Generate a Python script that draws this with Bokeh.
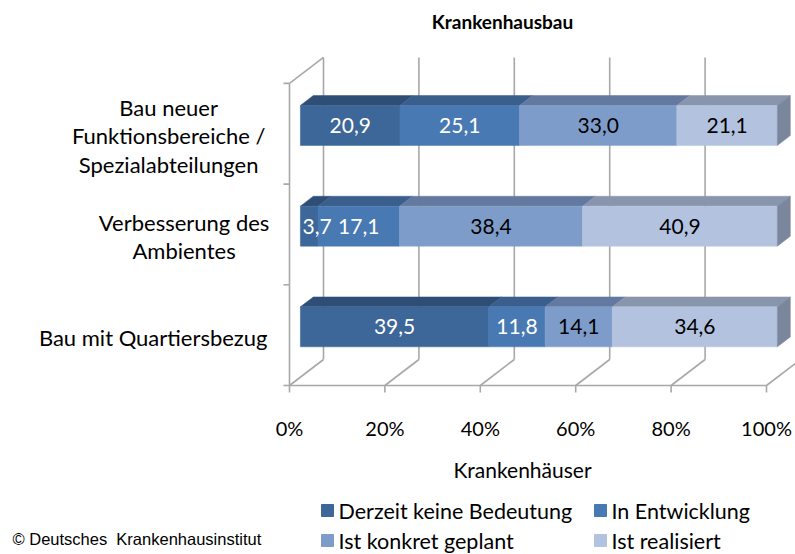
from bokeh.plotting import figure
from bokeh.models import Range1d
from bokeh.core.properties import value
from bokeh.embed import file_html
from bokeh.resources import INLINE

# ---------------- data ----------------
title = "Krankenhausbau"
x_label = "Krankenhäuser"
source_note = "© Deutsches\u00a0 Krankenhausinstitut"
categories = [  # bottom -> top
    "Bau mit Quartiersbezug",
    "Verbesserung des\nAmbientes",
    "Bau neuer\nFunktionsbereiche /\nSpezialabteilungen",
]
series = ["Derzeit keine Bedeutung", "In Entwicklung", "Ist konkret geplant", "Ist realisiert"]
keine_bedeutung = [39.5, 3.7, 20.9]
in_entwicklung = [11.8, 17.1, 25.1]
konkret_geplant = [14.1, 38.4, 33.0]
realisiert = [34.6, 40.9, 21.1]
x_ticks = [0, 20, 40, 60, 80, 100]
x_tick_labels = ["0%", "20%", "40%", "60%", "80%", "100%"]

# ---------------- style ----------------
front_colors = ["#3D6699", "#4879B3", "#7E9CC9", "#B3C3DF"]
top_colors = ["#2F4E76", "#3A5F8D", "#63799F", "#8995AC"]
side_color = "#7A869C"
label_colors = ["white", "white", "black", "black"]
grid_color = "#A8A8A8"
FONT = "Lato"

# ---------------- layout (pixels) ----------------
W, H = 795, 554
PAGE = 0
X0 = 289.0        # screen x of 0 % on the front plane
PXP = 4.77        # px per percent
FLOOR = 385.0     # screen y of the floor front edge
PXC = 100.7       # px per category
DX = 34.0 / PXP   # depth offset (percent units)
DY = 26.0 / PXC   # depth offset (category units)
D0, D1 = 0.32, 0.70   # bar front / back depth
HALF = 20.0 / PXC

def sx(px):
    return (px - X0) / PXP

def sy(py):
    return -0.5 + (FLOOR - py) / PXC

def proj(x, y, d):
    return x + d * DX, y + d * DY

p = figure(width=W, height=H, output_backend="svg", toolbar_location=None,
           x_range=Range1d(sx(PAGE), sx(PAGE + W)), y_range=Range1d(sy(PAGE + H), sy(PAGE)),
           x_axis_type=None, y_axis_type=None, min_border=0, outline_line_color=None)
p.grid.visible = False
p.background_fill_color = "white"

n = len(categories)
ybot, ytop = -0.5, n - 0.5

# ---------------- walls / grid ----------------
gx, gy = [], []
for t in x_ticks:
    a = proj(t, ybot, 1); b = proj(t, ytop, 1)          # back wall vertical
    gx.append([a[0], b[0]]); gy.append([a[1], b[1]])
    a = proj(t, ybot, 0); b = proj(t, ybot, 1)          # floor diagonal
    gx.append([a[0], b[0]]); gy.append([a[1], b[1]])
    gx.append([t, t]); gy.append([ybot, ybot - 7 / PXC])  # tick mark
gx.append([x_ticks[0], x_ticks[-1]]); gy.append([ybot, ybot])   # floor front edge
gx.append([0, 0]); gy.append([ybot, ytop])                      # left wall front edge
a = proj(0, ytop, 0); b = proj(0, ytop, 1)
gx.append([a[0], b[0]]); gy.append([a[1], b[1]])
for k in range(n + 1):
    yy = ybot + k
    gx.append([0, -6 / PXP]); gy.append([yy, yy])
p.multi_line(xs=gx, ys=gy, line_color=grid_color, line_width=1.6)

# ---------------- bars ----------------
all_series = [keine_bedeutung, in_entwicklung, konkret_geplant, realisiert]
labels = []
for i in range(n):
    vals = [s[i] for s in all_series]
    total = sum(vals)
    left = 0.0
    yb, yt = i - HALF, i + HALF
    for k, v in enumerate(vals):
        w = v / total * 100.0
        right = left + w
        c = [proj(left, yt, D0), proj(right, yt, D0), proj(right, yt, D1), proj(left, yt, D1)]
        p.patch([q[0] for q in c], [q[1] for q in c], fill_color=top_colors[k],
                line_color=top_colors[k], line_width=0.5)
        fl = proj(left, yb, D0); fr = proj(right, yt, D0)
        p.quad(left=fl[0], right=fr[0], bottom=fl[1], top=fr[1],
               fill_color=front_colors[k], line_color=front_colors[k], line_width=0.5)
        cx = max(left + w / 2, left + 3.5)
        lx, ly = proj(cx, i, D0)
        labels.append((lx, ly, f"{v:.1f}".replace(".", ","), label_colors[k]))
        left = right
    c = [proj(100, yb, D0), proj(100, yt, D0), proj(100, yt, D1), proj(100, yb, D1)]
    p.patch([q[0] for q in c], [q[1] for q in c], fill_color=side_color,
            line_color=side_color, line_width=0.5)

p.text(x=[l[0] for l in labels], y=[l[1] for l in labels], text=[l[2] for l in labels],
       text_color=[l[3] for l in labels], text_font=value(FONT),
       text_font_size=value("21px"), text_align="center", text_baseline="middle")

# ---------------- category labels ----------------
RIGHT_PX = 266.0
for i, cat in enumerate(categories):
    widest = max(len(s) for s in cat.split("\n"))
    cx = sx(RIGHT_PX - widest * 10.3 / 2)
    p.text(x=[cx], y=[i - 0.02], text=[cat], text_font=value(FONT), text_font_size=value("22px"),
           text_color="black", text_align="center", text_baseline="middle",
           text_line_height=1.05)

# ---------------- x tick labels / axis title / title ----------------
p.text(x=x_ticks, y=[sy(427)] * len(x_ticks), text=x_tick_labels,
       text_font=value(FONT), text_font_size=value("20px"), text_color="black",
       text_align="center", text_baseline="middle")
p.text(x=[sx(522)], y=[sy(469)], text=[x_label], text_font=value(FONT),
       text_font_size=value("21px"), text_color="black",
       text_align="center", text_baseline="middle")
p.text(x=[sx(502)], y=[sy(21)], text=[title], text_font=value(FONT),
       text_font_size=value("19px"), text_font_style="bold", text_color="black",
       text_align="center", text_baseline="middle")

# ---------------- legend ----------------
leg_cols = [327.0, 600.0]
leg_rows = [510.0, 540.0]
for k, name in enumerate(series):
    px_ = leg_cols[k % 2]
    py_ = leg_rows[k // 2]
    p.scatter(x=[sx(px_)], y=[sy(py_)], marker="square", size=12,
              fill_color=front_colors[k], line_color=front_colors[k])
    p.text(x=[sx(px_ + 11)], y=[sy(py_)], text=[name], text_font=value(FONT),
           text_font_size=value("21.5px"), text_color="black",
           text_align="left", text_baseline="middle")

# ---------------- source note ----------------
p.text(x=[sx(12)], y=[sy(538)], text=[source_note], text_font=value("Liberation Sans"),
       text_font_size=value("16.5px"), text_color="black",
       text_align="left", text_baseline="middle")

open("out.html", "w").write(file_html(p, INLINE))
